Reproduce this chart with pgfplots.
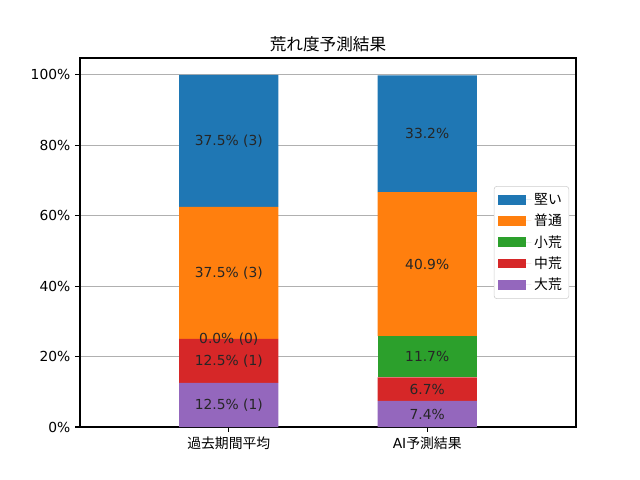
\documentclass[border=0pt]{standalone}
\usepackage{fontspec}
\setmainfont{DejaVu Sans}
\newfontfamily\cjk{Noto Sans CJK JP}
\usepackage{pgfplots}
\pgfplotsset{compat=1.18}
\definecolor{c0}{HTML}{1F77B4}
\definecolor{c1}{HTML}{FF7F0E}
\definecolor{c2}{HTML}{2CA02C}
\definecolor{c3}{HTML}{D62728}
\definecolor{c4}{HTML}{9467BD}
\pgfplotsset{mylegend/.style={legend image code/.code={\fill[##1, sharp corners] (0pt,-3.5pt) rectangle (20pt,3.5pt); \path (0pt,0pt) -- (24pt,0pt);}}}
\begin{document}
\fontsize{10}{12}\selectfont
\begin{tikzpicture}
\path[use as bounding box] (-0.8in,-0.53in) rectangle (5.6in,4.27in);
\begin{axis}[
  at={(0,0)}, anchor=south west,
  scale only axis, width=4.96in, height=3.69in,
  ybar stacked, bar width=0.5,
  xmin=-0.75, xmax=1.75, ymin=0, ymax=104.8,
  xtick={0,1}, xticklabels={{\cjk 過去期間平均},{AI\cjk 予測結果}},
  ytick={0,20,40,60,80,100},
  yticklabel={\pgfmathprintnumber{\tick}\%},
  /pgf/number format/assume math mode=true,
  ymajorgrids,
  grid style={color=black!31, line width=0.8pt},
  axis line style={line width=0.8pt},
  tick style={black, line width=0.8pt},
  tick align=outside, major tick length=3.5pt,
  xtick pos=bottom, ytick pos=left,
  ticklabel style={font=\fontsize{10}{12}\selectfont},
  title={\cjk 荒れ度予測結果},
  title style={font=\fontsize{12}{14}\selectfont, yshift=-5pt},
  reverse legend,
  legend style={at={(axis description cs:1,0.5)}, anchor=east, xshift=-5pt,
    draw=black!20, rounded corners=2pt, font=\fontsize{10}{12}\selectfont,
    row sep=1.5pt, inner xsep=3pt, inner ysep=3pt},
  legend cell align=left,
]
\addplot[fill=c4, draw=none, mylegend] coordinates {(0,12.5) (1,7.4)};
\addplot[fill=c3, draw=none, mylegend] coordinates {(0,12.5) (1,6.7)};
\addplot[fill=c2, draw=none, mylegend] coordinates {(0,0) (1,11.7)};
\addplot[fill=c1, draw=none, mylegend] coordinates {(0,37.5) (1,40.9)};
\addplot[fill=c0, draw=none, mylegend] coordinates {(0,37.5) (1,33.2)};
\legend{{\cjk 大荒},{\cjk 中荒},{\cjk 小荒},{\cjk 普通},{\cjk 堅い}}
\end{axis}
\begin{axis}[
  at={(0,0)}, anchor=south west,
  scale only axis, width=4.96in, height=3.69in,
  xmin=-0.75, xmax=1.75, ymin=0, ymax=104.8,
  axis lines=none, ticks=none,
]
\addplot[only marks, mark=*, mark size=0pt, mark options={draw=none, fill=none},
  nodes near coords, point meta=explicit symbolic,
  nodes near coords align=center,
  nodes near coords style={font=\fontsize{10}{12}\selectfont, text=black!85, anchor=center}]
  coordinates {
  (0,6.25) [12.5\% (1)]
  (0,18.75) [12.5\% (1)]
  (0,25) [0.0\% (0)]
  (0,43.75) [37.5\% (3)]
  (0,81.25) [37.5\% (3)]
  (1,3.7) [7.4\%]
  (1,10.75) [6.7\%]
  (1,19.95) [11.7\%]
  (1,46.25) [40.9\%]
  (1,83.3) [33.2\%]
  };
\end{axis}
\end{tikzpicture}
\end{document}
